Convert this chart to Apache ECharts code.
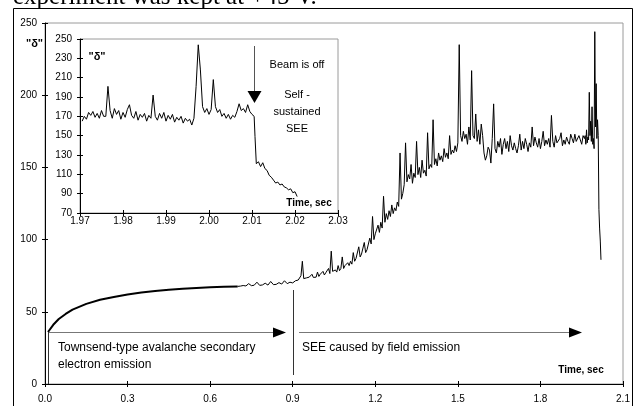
<!DOCTYPE html>
<html>
<head>
<meta charset="utf-8">
<script src="https://cdn.jsdelivr.net/npm/echarts@6/dist/echarts.min.js"></script>
<style>html,body{margin:0;padding:0;background:#fff}#c{width:635px;height:406px}</style>
</head>
<body>
<div id="c"></div>
<script>
// ---- tick labels ----
const mainXTicks = [0, 0.3, 0.6, 0.9, 1.2, 1.5, 1.8, 2.1];
const mainYTicks = [0, 50, 100, 150, 200, 250];
const insetXTicks = [1.97, 1.98, 1.99, 2.00, 2.01, 2.02, 2.03];
const insetYTicks = [70, 90, 110, 130, 150, 170, 190, 210, 230, 250];

// ---- main series: smooth Townsend ramp ----
const rampTime  = [0.011, 0.03, 0.05, 0.075, 0.1, 0.15, 0.2, 0.25, 0.3, 0.35, 0.4, 0.45, 0.5, 0.55, 0.6, 0.65, 0.7];
const rampValue = [36, 41, 45, 48.5, 51.5, 55.5, 58.3, 60.3, 62, 63.3, 64.4, 65.3, 66, 66.5, 67, 67.3, 67.6];

// ---- main series: slightly noisy plateau 0.70 - 0.90 s ----
const plateauTime  = [0.70,0.71,0.72,0.73,0.74,0.75,0.76,0.77,0.78,0.79,
  0.80,0.81,0.82,0.83,0.84,0.85,0.86,0.87,0.88,0.89,0.90];
const plateauValue = [67.6,67.8,68.2,67.9,69.5,68.1,68.4,70.5,68.3,68.6,
  69.8,68.5,71,68.8,69,70.2,69.2,71.5,69.5,70.5,70];

// ---- main series: field-emission part 0.905 - 1.96 s ----
const feTime = [0.905,0.910,0.915,0.920,0.925,0.930,0.935,0.940,0.945,0.950,
  0.955,0.960,0.965,0.970,0.975,0.980,0.985,0.990,0.995,1.000,
  1.005,1.010,1.015,1.020,1.025,1.030,1.035,1.040,1.045,1.050,
  1.055,1.060,1.065,1.070,1.075,1.080,1.085,1.090,1.095,1.100,
  1.105,1.110,1.115,1.120,1.125,1.130,1.135,1.140,1.145,1.150,
  1.155,1.160,1.165,1.170,1.175,1.180,1.185,1.190,1.195,1.200,
  1.205,1.210,1.215,1.220,1.225,1.230,1.235,1.240,1.245,1.250,
  1.255,1.260,1.265,1.270,1.275,1.280,1.285,1.290,1.295,1.300,
  1.305,1.310,1.315,1.320,1.325,1.330,1.335,1.340,1.345,1.350,
  1.355,1.360,1.365,1.370,1.375,1.380,1.385,1.390,1.395,1.400,
  1.405,1.410,1.415,1.420,1.425,1.430,1.435,1.440,1.445,1.450,
  1.455,1.460,1.465,1.470,1.475,1.480,1.485,1.490,1.495,1.500,
  1.505,1.510,1.515,1.520,1.525,1.530,1.535,1.540,1.545,1.550,
  1.555,1.560,1.565,1.570,1.575,1.580,1.585,1.590,1.595,1.600,
  1.605,1.610,1.615,1.620,1.625,1.630,1.635,1.640,1.645,1.650,
  1.655,1.660,1.665,1.670,1.675,1.680,1.685,1.690,1.695,1.700,
  1.705,1.710,1.715,1.720,1.725,1.730,1.735,1.740,1.745,1.750,
  1.755,1.760,1.765,1.770,1.775,1.780,1.785,1.790,1.795,1.800,
  1.805,1.810,1.815,1.820,1.825,1.830,1.835,1.840,1.845,1.850,
  1.855,1.860,1.865,1.870,1.875,1.880,1.885,1.890,1.895,1.900,
  1.905,1.910,1.915,1.920,1.925,1.930,1.935,1.940,1.945,1.950,
  1.955,1.960];
const feValue = [70.5,71.5,70.8,72,71.2,75,85,73,72.4,73.5,
  72.8,74,73,76,73.8,75,74,77.5,74.5,76,
  75,78,75.5,77,76,80,76.5,92,78,77,
  79,77.5,82,78.5,80,88,80,82,81,84,
  82,85,83,91,85,87,86,95,88,90,
  89,98,91,93,94,101,97,116,100,104,
  103,110,105,112,108,130,112,118,114,120,
  116,124,118,122,120,126,123,160,128,132,
  138,167,140,145,142,152,139,146,143,168,
  145,150,143,155,146,148,144,174,149,152,
  150,183,152,156,151,160,155,158,154,163,
  157,160,156,172,159,162,160,165,161,167,
  235,172,168,175,170,173,166,178,169,217,
  172,170,187,168,176,166,180,172,160,155,
  158,164,162,153,170,194,163,160,168,164,
  170,159,166,170,163,168,161,172,165,162,
  167,163,160,165,173,162,168,163,170,166,
  161,167,164,178,165,171,167,164,170,163,
  168,175,165,169,166,170,164,186,168,164,
  172,167,166,170,174,165,169,166,171,168,
  166,173,170,167,173,168,167,172,169,166,
  172,170];

// ---- main series: end, beam switched off ----
const endTime = [1.9625,1.965,1.9675,1.97,1.9725,1.975,1.9775,1.98,1.9825,1.985,
  1.9875,1.99,1.9925,1.995,1.9975,2.00,2.0025,2.005,2.0075,2.01,
  2.0125,2.015,2.0175,2.02];
const endValue = [172,166,176,167,171,169,202,172,182,168,
  192,166,170,163,244,178,208,170,183,172,
  121,108,99,86];

// ---- inset series (zoom on 1.97 - 2.03 s) ----
const insetTime = [1.9705,1.9710,1.9715,1.9720,1.9725,1.9730,1.9735,1.9740,1.9745,1.9750,
  1.9755,1.9760,1.9765,1.9770,1.9775,1.9780,1.9785,1.9790,1.9795,1.9800,
  1.9805,1.9810,1.9815,1.9820,1.9825,1.9830,1.9835,1.9840,1.9845,1.9850,
  1.9855,1.9860,1.9865,1.9870,1.9875,1.9880,1.9885,1.9890,1.9895,1.9900,
  1.9905,1.9910,1.9915,1.9920,1.9925,1.9930,1.9935,1.9940,1.9945,1.9950,
  1.9955,1.9960,1.9965,1.9970,1.9975,1.9980,1.9985,1.9990,1.9995,2.0000,
  2.0005,2.0010,2.0015,2.0020,2.0025,2.0030,2.0035,2.0040,2.0045,2.0050,
  2.0055,2.0060,2.0065,2.0070,2.0075,2.0080,2.0085,2.0090,2.0095,2.0100,
  2.0105,2.0107,2.0110,2.0115,2.0120,2.0125,2.0130,2.0135,2.0140,2.0145,
  2.0150,2.0155,2.0160,2.0165,2.0170,2.0175,2.0180,2.0185,2.0190,2.0195,
  2.0200,2.0205];
const insetValue = [165,170,167,174,171,175,169,173,168,176,
  170,170,201,176,168,178,172,176,167,174,
  169,177,182,171,168,175,166,172,169,173,
  165,171,168,192,170,166,173,168,174,165,
  171,167,172,164,169,166,170,163,168,165,
  167,161,168,201,244,218,180,174,178,172,
  177,208,180,174,177,170,173,168,172,167,
  171,169,175,183,176,178,174,182,175,172,
  170,149,121,123,118,122,116,114,109,107,
  104,101,102,99,100,97,96,94,95,91,
  92,87];

const zip = (a, b) => a.map((t, i) => [t, b[i]]);

const FONT = 'Liberation Sans, Arial, sans-serif';
const BLACK = '#000';

function axis(gridIndex, min, max, ticks, digits, inside, primary, isX) {
  return {
    type: 'value', gridIndex, min, max,
    position: isX ? 'bottom' : 'left',
    splitLine: { show: false },
    axisLine: { show: primary, onZero: false, lineStyle: { color: BLACK, width: 1 } },
    axisTick: { show: true, inside, length: 3, customValues: ticks, lineStyle: { color: BLACK, width: 1 } },
    axisLabel: primary ? {
      show: true, customValues: ticks, color: BLACK, fontFamily: FONT, fontSize: 10,
      margin: isX ? (gridIndex === 0 ? 10 : 3) : 8,
      formatter: v => digits ? Number(v).toFixed(digits) : String(Math.round(v))
    } : { show: false }
  };
}

const chart = echarts.init(document.getElementById('c'), null, { renderer: 'canvas' });

const txt = (text, x, y, size, bold, extra) => Object.assign({
  type: 'text', z: 100,
  style: Object.assign({ text, x, y, fill: BLACK, font: (bold ? 'bold ' : '') + size + 'px ' + FONT,
    textAlign: 'center', textVerticalAlign: 'middle' }, extra || {})
});

const lineSeries = (data, width, xi) => ({
  type: 'line', xAxisIndex: xi, yAxisIndex: xi, data, showSymbol: false, symbol: 'none',
  sampling: 'none', lineStyle: { color: BLACK, width }, silent: true, z: 3
});

chart.setOption({
  animation: false,
  backgroundColor: '#fff',
  grid: [
    { left: 45, top: 23, width: 578, height: 361, show: true, borderColor: '#9a9a9a', borderWidth: 1, backgroundColor: 'transparent', containLabel: false },
    { left: 80, top: 39, width: 258, height: 174, show: true, borderColor: '#9a9a9a', borderWidth: 1, backgroundColor: '#fff', containLabel: false }
  ],
  xAxis: [
    axis(0, 0, 2.1, mainXTicks, 1, false, true, true),
    axis(0, 0, 2.1, mainXTicks, 1, true, false, true),
    axis(1, 1.97, 2.03, insetXTicks, 2, false, true, true),
    axis(1, 1.97, 2.03, insetXTicks, 2, true, false, true)
  ],
  yAxis: [
    axis(0, 0, 250, mainYTicks, 0, false, true, false),
    axis(0, 0, 250, mainYTicks, 0, true, false, false),
    axis(1, 70, 250, insetYTicks, 0, false, true, false),
    axis(1, 70, 250, insetYTicks, 0, true, false, false)
  ],
  series: [
    lineSeries(zip(rampTime, rampValue), 2, 0),
    lineSeries(zip(plateauTime, plateauValue)
      .concat(zip(feTime, feValue))
      .concat(zip(endTime, endValue)), 1, 0),
    lineSeries(zip(insetTime, insetValue), 1, 2)
  ],
  graphic: [
    // outer frame
    { type: 'rect', z: 100, shape: { x: 13.5, y: 8.5, width: 619, height: 410 }, style: { fill: 'none', stroke: BLACK, lineWidth: 1 } },
    // clipped caption line at top
    { type: 'text', z: 100, style: { text: 'experiment was kept at +45 V.', x: 13, y: -2.5, fill: BLACK,
      font: '25px Liberation Serif, Times New Roman, serif', textAlign: 'left', textVerticalAlign: 'middle' } },
    txt('"δ"', 34.5, 44, 11, true),
    txt('"δ"', 97, 57, 11, true),
    txt('Beam is off', 297, 65, 11, false),
    txt('Self -', 297, 95, 11, false),
    txt('sustained', 297, 112, 11, false),
    txt('SEE', 297, 129, 11, false),
    txt('Time, sec', 309, 203, 10, true),
    txt('Time, sec', 581, 370, 10, true),
    txt('Townsend-type avalanche secondary', 58, 348, 12, false, { textAlign: 'left' }),
    txt('electron emission', 58, 365, 12, false, { textAlign: 'left' }),
    txt('SEE caused by field emission', 302, 348, 12, false, { textAlign: 'left' }),
    // inset arrow (beam off)
    { type: 'line', z: 100, shape: { x1: 254.5, y1: 46, x2: 254.5, y2: 92 }, style: { stroke: '#555', lineWidth: 1 } },
    { type: 'polygon', z: 100, shape: { points: [[247.5, 91], [261.5, 91], [254.5, 103]] }, style: { fill: BLACK } },
    // main annotation arrows
    { type: 'line', z: 100, shape: { x1: 48.5, y1: 332, x2: 48.5, y2: 384 }, style: { stroke: '#333', lineWidth: 1 } },
    { type: 'line', z: 100, shape: { x1: 49, y1: 332.5, x2: 274, y2: 332.5 }, style: { stroke: '#777', lineWidth: 1 } },
    { type: 'polygon', z: 100, shape: { points: [[273, 327.5], [273, 337.5], [286, 332.5]] }, style: { fill: BLACK } },
    { type: 'line', z: 100, shape: { x1: 293.5, y1: 290, x2: 293.5, y2: 375 }, style: { stroke: '#333', lineWidth: 1 } },
    { type: 'line', z: 100, shape: { x1: 299, y1: 332.5, x2: 570, y2: 332.5 }, style: { stroke: '#777', lineWidth: 1 } },
    { type: 'polygon', z: 100, shape: { points: [[569, 327.5], [569, 337.5], [582, 332.5]] }, style: { fill: BLACK } }
  ]
});
</script>
</body>
</html>
